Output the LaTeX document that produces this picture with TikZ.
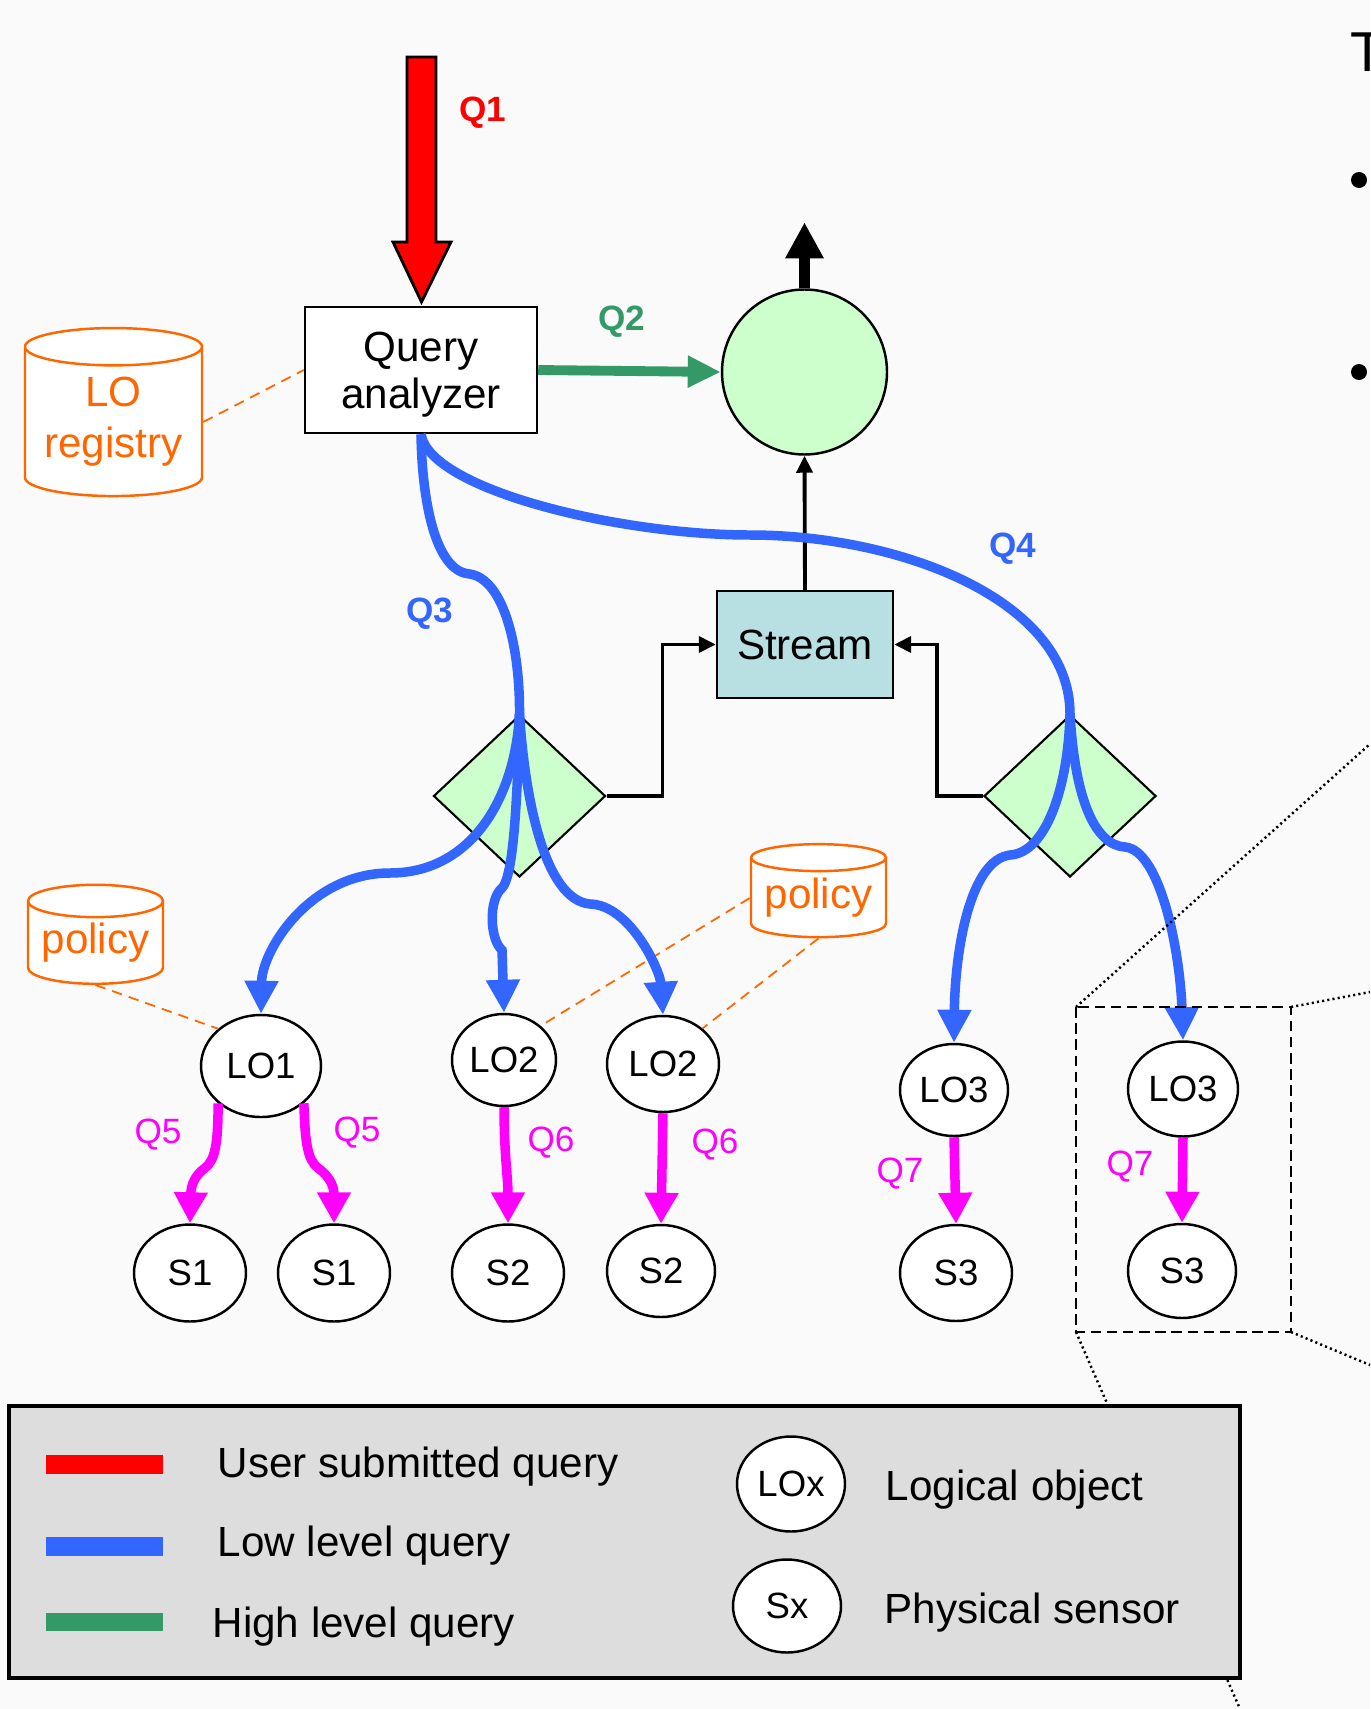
\documentclass[tikz,border=0pt]{standalone}
\usepackage{fontspec}
\setmainfont{Liberation Sans}
\usetikzlibrary{arrows.meta,shapes.geometric}

\definecolor{qred}{HTML}{FF0000}
\definecolor{qblue}{HTML}{3366FF}
\definecolor{qgreen}{HTML}{339966}
\definecolor{qmag}{HTML}{FF00FF}
\definecolor{dborange}{HTML}{FF6600}
\definecolor{opgreen}{HTML}{CCFFCC}
\definecolor{streamfill}{HTML}{B8E0E3}
\definecolor{legendgray}{HTML}{DDDDDD}
\definecolor{slidebg}{HTML}{FAFAFA}

\newcommand{\bigtxt}{\fontsize{12}{13.4}\selectfont}
\newcommand{\objtxt}{\fontsize{10.4}{12}\selectfont}
\newcommand{\qtxt}{\fontsize{10}{12}\selectfont}

\begin{document}
\begin{tikzpicture}[
    every node/.style={inner sep=0pt},
    obj/.style={ellipse, draw, fill=white, line width=0.7pt, font=\objtxt},
    oper/.style={diamond, draw, fill=opgreen, line width=0.6pt, minimum width=1.72cm, minimum height=1.62cm},
    db/.style={cylinder, shape border rotate=90, draw=dborange, fill=white, line width=0.7pt,
               text=dborange, font=\fontsize{12}{14.5}\selectfont, align=center},
    dblink/.style={draw=dborange, line width=0.5pt, dash pattern=on 3pt off 2pt},
    lowq/.style={draw=qblue, line width=2.7pt, -{Triangle[width=0.32cm,length=0.33cm]}},
    lowpath/.style={draw=qblue, line width=2.7pt},
    sensq/.style={draw=qmag, line width=2.7pt, -{Triangle[width=0.32cm,length=0.31cm]}},
    feed/.style={draw, line width=1.1pt, -{Triangle[width=0.16cm,length=0.17cm]}},
    qlabel/.style={font=\qtxt\bfseries},
    slabel/.style={font=\qtxt, text=qmag},
    legtext/.style={font=\bigtxt, anchor=base west}
  ]
  % slide background and frame
  \fill[slidebg] (0,0) rectangle (13.70,-17.09);
  \useasboundingbox (0,0) rectangle (13.70,-17.09);

  % title and bullets of the slide (cut by the frame)
  \node[font=\fontsize{16}{19}\selectfont, anchor=base west] (title) at (13.50,-0.72) {T};
  \fill (13.59,-1.80) circle (0.08);
  \fill (13.59,-3.72) circle (0.08);

  % main blocks
  \node[draw, fill=white, line width=0.7pt, minimum width=2.32cm, minimum height=1.26cm,
        font=\bigtxt, align=center, text depth=0pt] (qa) at (4.21,-3.70) {Query\\analyzer};
  \node[circle, draw, fill=opgreen, line width=0.7pt, minimum size=1.65cm] (hub) at (8.045,-3.72) {};
  \node[draw, fill=streamfill, line width=0.7pt, minimum width=1.76cm, minimum height=1.07cm,
        font=\bigtxt] (stream) at (8.05,-6.445) {Stream};
  \node[oper] (dl) at (5.195,-7.96) {};
  \node[oper] (dr) at (10.70,-7.96) {};

  % data stores
  \node[db, minimum width=1.77cm, minimum height=1.68cm, aspect=0.27] (reg) at (1.135,-4.22) {LO\\registry};
  \node[db, minimum width=1.35cm, minimum height=0.99cm, aspect=0.30] (polL) at (0.955,-9.43) {policy};
  \node[db, minimum width=1.35cm, minimum height=0.93cm, aspect=0.25] (polR) at (8.185,-8.98) {policy};

  % logical objects
  \node[obj, minimum width=1.20cm, minimum height=1.02cm] (lo1) at (2.61,-10.66) {LO1};
  \node[obj, minimum width=1.04cm, minimum height=0.92cm] (lo2a) at (5.04,-10.60) {LO2};
  \node[obj, minimum width=1.12cm, minimum height=0.96cm] (lo2b) at (6.63,-10.64) {LO2};
  \node[obj, minimum width=1.08cm, minimum height=0.92cm] (lo3a) at (9.54,-10.90) {LO3};
  \node[obj, minimum width=1.10cm, minimum height=0.95cm] (lo3b) at (11.83,-10.89) {LO3};

  % sensors
  \node[obj, minimum width=1.12cm, minimum height=0.97cm] (s1a) at (1.90,-12.73) {S1};
  \node[obj, minimum width=1.12cm, minimum height=0.97cm] (s1b) at (3.34,-12.73) {S1};
  \node[obj, minimum width=1.12cm, minimum height=0.97cm] (s2a) at (5.08,-12.73) {S2};
  \node[obj, minimum width=1.08cm, minimum height=0.92cm] (s2b) at (6.61,-12.71) {S2};
  \node[obj, minimum width=1.12cm, minimum height=0.96cm] (s3a) at (9.56,-12.73) {S3};
  \node[obj, minimum width=1.08cm, minimum height=0.94cm] (s3b) at (11.82,-12.71) {S3};

  % store links
  \draw[dblink] (reg.east) -- (qa.west);
  \draw[dblink] (polL.south) -- (lo1.139);
  \draw[dblink] (polR.west) -- (lo2a.43);
  \draw[dblink] (polR.south) -- (lo2b.42);

  % user query
  \draw[fill=qred, line width=0.8pt] (4.07,-0.57) -- (4.36,-0.57) -- (4.36,-2.42) -- (4.51,-2.42)
    -- (4.215,-3.02) -- (3.93,-2.42) -- (4.07,-2.42) -- cycle;
  \node[qlabel, text=qred] (q1) at (4.83,-1.13) {Q1};

  % high level query and result
  \draw[draw=qgreen, line width=2.8pt, -{Triangle[width=0.30cm,length=0.33cm]}] (qa.east) -- (hub.west);
  \node[qlabel, text=qgreen] (q2) at (6.22,-3.22) {Q2};
  \draw[line width=3.4pt, -{Triangle[width=0.36cm,length=0.36cm]}] (hub.north) -- ++(0,0.66);
  \draw[feed] (stream.north) -- (hub.south);
  \draw[feed] (dl.east) -- ++(0.56,0) |- (stream.west);
  \draw[feed] (dr.west) -- ++(-0.46,0) |- (stream.east);

  % low level queries
  \draw[lowpath] (qa.south) .. controls (4.22,-5.0) and (4.35,-5.72) .. (4.70,-5.74)
    .. controls (5.05,-5.80) and (5.20,-6.50) .. (dl.north);
  \draw[lowpath] (qa.south) .. controls (4.30,-4.90) and (6.20,-5.35) .. (7.50,-5.35)
    .. controls (9.00,-5.35) and (10.70,-6.00) .. (dr.north);
  \node[qlabel, text=qblue] (q3) at (4.30,-6.14) {Q3};
  \node[qlabel, text=qblue] (q4) at (10.13,-5.49) {Q4};

  \draw[lowq] (dl.north) .. controls (5.15,-8.00) and (4.70,-8.73) .. (3.90,-8.73)
    .. controls (3.10,-8.73) and (2.62,-9.50) .. (lo1.north);
  \draw[lowq] (dl.north) .. controls (5.17,-8.20) and (5.12,-8.78) .. (5.02,-8.88)
    .. controls (4.88,-9.00) and (4.90,-9.40) .. (5.02,-9.50) -- (lo2a.north);
  \draw[lowq] (dl.north) .. controls (5.25,-8.00) and (5.45,-9.00) .. (5.90,-9.04)
    .. controls (6.30,-9.05) and (6.60,-9.70) .. (lo2b.north);
  \draw[lowq] (dr.north) .. controls (10.68,-7.90) and (10.45,-8.53) .. (10.10,-8.55)
    .. controls (9.70,-8.60) and (9.55,-9.50) .. (lo3a.north);
  \draw[lowq] (dr.north) .. controls (10.75,-8.00) and (10.95,-8.45) .. (11.25,-8.47)
    .. controls (11.60,-8.50) and (11.80,-9.50) .. (lo3b.north);

  % sensor queries
  \draw[sensq] (lo1.221) .. controls (2.18,-11.45) and (2.15,-11.60) .. (2.05,-11.68)
    .. controls (1.95,-11.75) and (1.91,-11.85) .. (s1a.north);
  \draw[sensq] (lo1.319) .. controls (3.05,-11.45) and (3.08,-11.60) .. (3.18,-11.68)
    .. controls (3.28,-11.75) and (3.34,-11.85) .. (s1b.north);
  \draw[sensq] (lo2a.south) to[out=-90,in=90] (s2a.north);
  \draw[sensq] (lo2b.south) -- (s2b.north);
  \draw[sensq] (lo3a.south) -- (s3a.north);
  \draw[sensq] (lo3b.south) -- (s3b.north);
  \node[slabel] (q5a) at (1.58,-11.35) {Q5};
  \node[slabel] (q5b) at (3.57,-11.33) {Q5};
  \node[slabel] (q6a) at (5.51,-11.43) {Q6};
  \node[slabel] (q6b) at (7.15,-11.45) {Q6};
  \node[slabel] (q7a) at (9.00,-11.74) {Q7};
  \node[slabel] (q7b) at (11.30,-11.67) {Q7};

  % zoom frame
  \draw[line width=0.6pt, dash pattern=on 3pt off 1.6pt] (10.76,-10.07) rectangle (12.91,-13.32);
  \draw[line width=0.7pt, dash pattern=on 0.6pt off 0.9pt] (10.76,-10.07) -- (13.70,-7.44);
  \draw[line width=0.7pt, dash pattern=on 0.6pt off 0.9pt] (12.91,-10.07) -- (13.70,-9.92);
  \draw[line width=0.7pt, dash pattern=on 0.6pt off 0.9pt] (12.91,-13.32) -- (13.70,-13.65);
  \draw[line width=0.7pt, dash pattern=on 0.6pt off 0.9pt] (10.76,-13.32) -- (12.40,-17.09);

  % legend
  \node[draw, line width=1.2pt, fill=legendgray, anchor=north west,
        minimum width=12.31cm, minimum height=2.72cm] (legend) at (0.07,-14.04) {};
  \fill[qred] (0.46,-14.55) rectangle (1.63,-14.74);
  \fill[qblue] (0.46,-15.37) rectangle (1.63,-15.56);
  \fill[qgreen] (0.46,-16.13) rectangle (1.63,-16.31);
  \node[legtext] (userq) at (2.17,-14.77) {User submitted query};
  \node[legtext] (lowlq) at (2.17,-15.56) {Low level query};
  \node[legtext] (highq) at (2.12,-16.37) {High level query};
  \node[obj, minimum width=1.08cm, minimum height=0.95cm] (lox) at (7.91,-14.84) {LOx};
  \node[obj, minimum width=1.08cm, minimum height=0.93cm] (sx) at (7.87,-16.06) {Sx};
  \node[legtext] (logobj) at (8.85,-15.00) {Logical object};
  \node[legtext] (physs) at (8.84,-16.23) {Physical sensor};
\end{tikzpicture}
\end{document}
